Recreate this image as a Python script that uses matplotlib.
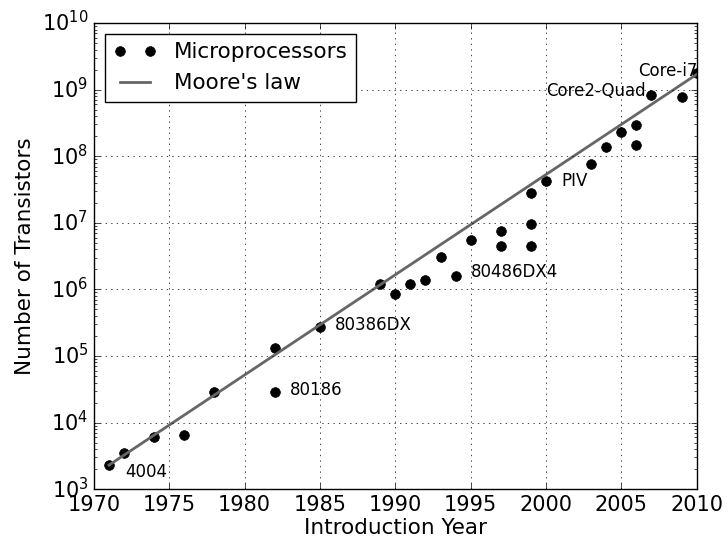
import matplotlib
matplotlib.use("Agg")
import matplotlib.pyplot as plt

plt.style.use("classic")
plt.rcParams["mathtext.fontset"] = "dejavusans"
plt.rcParams["mathtext.default"] = "regular"

years = [1971, 1972, 1974, 1976, 1978, 1982, 1982, 1985, 1989, 1990, 1991,
         1992, 1993, 1994, 1995, 1997, 1997, 1999, 1999, 1999, 2000, 2003,
         2004, 2005, 2006, 2006, 2007, 2009, 2010]
transistors = [2300, 3500, 6000, 6500, 29000, 134000, 29000, 275000, 1.2e6,
               8.5e5, 1.2e6, 1.4e6, 3.1e6, 1.6e6, 5.5e6, 7.5e6, 4.5e6, 9.5e6,
               4.5e6, 2.8e7, 4.2e7, 7.7e7, 1.4e8, 2.3e8, 2.9e8, 1.5e8, 8.2e8,
               7.8e8, 1.78e9]

moore_years = [1971, 2010]
moore_counts = [2300, 1.7e9]

labels = ["4004", "80186", "80386DX", "80486DX4", "PIV", "Core2-Quad", "Core-i7"]
label_x = [1972.1, 1983.0, 1986.0, 1995.0, 2001.0, 2000.0, 2006.1]
label_y = [1800, 31000, 290000, 1.8e6, 4.2e7, 9.5e8, 1.9e9]

fig = plt.figure(figsize=(7.28, 5.37), dpi=100, facecolor="white")
ax = fig.add_axes([0.129, 0.089, 0.828, 0.868])

ax.semilogy(years, transistors, "ko", markersize=7, label="Microprocessors")
ax.semilogy(moore_years, moore_counts, color="#666666", linewidth=2,
            label="Moore's law")

for t, x, y in zip(labels, label_x, label_y):
    ax.text(x, y, t, fontsize=12, va="center", ha="left")

ax.set_xlim(1970, 2010)
ax.set_ylim(1e3, 1e10)
ax.ticklabel_format(axis="x", useOffset=False)
ax.grid(True, color="black")
ax.tick_params(labelsize=15)
ax.set_xlabel("Introduction Year", fontsize=15.5, labelpad=2)
ax.set_ylabel("Number of Transistors", fontsize=15.5)
ax.legend(loc="upper left", fontsize=15.5, numpoints=2)

fig.savefig("out.png", dpi=100, facecolor="white")
